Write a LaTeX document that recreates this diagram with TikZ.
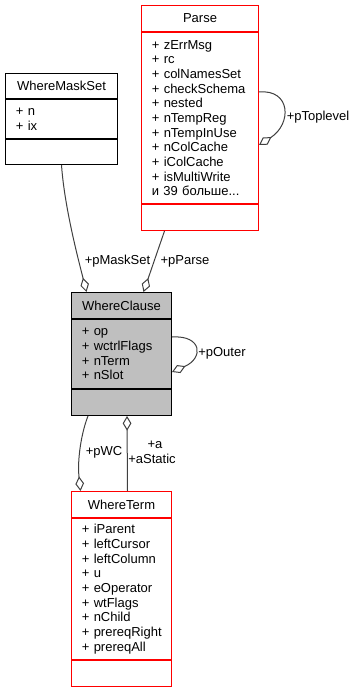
\documentclass[tikz,border=0pt]{standalone}
\usepackage{fontspec}
\setmainfont{Liberation Sans}
\usetikzlibrary{positioning,calc,arrows.meta}

\definecolor{edgegrey}{HTML}{404040}
\definecolor{boxred}{HTML}{FF0000}
\definecolor{boxgrey}{HTML}{BFBFBF}

\hyphenpenalty=10000

\tikzset{
  box/.style={draw, rectangle, inner sep=0pt, line width=0.75pt},
  classhead/.style={box, minimum width=#1, minimum height=19.5pt},
  classbody/.style={box, align=left, inner xsep=7.75pt, text width=#1},
  classfoot/.style={box, minimum width=#1, minimum height=19.5pt},
  assoc/.style={draw=edgegrey, line width=0.75pt,
    -{Diamond[open, length=11pt, width=6.5pt]}},
  lbl/.style={inner sep=0pt, anchor=base},
}

\begin{document}
\begin{tikzpicture}[x=0.75pt, y=-0.75pt, font=\fontsize{9.75}{11}\selectfont]
\useasboundingbox (0,0) rectangle (353,691);

% Parse
\node[classhead=87.75pt, draw=boxred, anchor=north west] (parseHead) at (141,5) {Parse};
\node[classbody=72.25pt, draw=boxred, minimum height=128.25pt, below=0pt of parseHead] (parseBody)
  {+ zErrMsg\\+ rc\\+ colNamesSet\\+ checkSchema\\+ nested\\+ nTempReg\\+ nTempInUse\\+ nColCache\\+ iColCache\\+ isMultiWrite\\и 39 больше...};
\node[classfoot=87.75pt, draw=boxred, below=0pt of parseBody] (parseFoot) {};

% WhereMaskSet
\node[classhead=84pt, minimum height=18.75pt, anchor=north west] (wmsHead) at (5,73) {WhereMaskSet};
\node[classbody=68.5pt, minimum height=29.25pt, below=0pt of wmsHead] (wmsBody) {+ n\\+ ix};
\node[classfoot=84pt, minimum height=18.75pt, below=0pt of wmsBody] (wmsFoot) {};

% WhereClause
\node[classhead=75pt, fill=boxgrey, anchor=north west] (wcHead) at (71,292) {WhereClause};
\node[classbody=59.5pt, fill=boxgrey, minimum height=51.75pt, below=0pt of wcHead] (wcBody)
  {+ op\\+ wctrlFlags\\+ nTerm\\+ nSlot};
\node[classfoot=75pt, fill=boxgrey, below=0pt of wcBody] (wcFoot) {};

% WhereTerm
\node[classhead=75pt, draw=boxred, anchor=north west] (wtHead) at (71,491) {WhereTerm};
\node[classbody=59.5pt, draw=boxred, minimum height=105.75pt, below=0pt of wtHead] (wtBody)
  {+ iParent\\+ leftCursor\\+ leftColumn\\+ u\\+ eOperator\\+ wtFlags\\+ nChild\\+~prereqRight\\+ prereqAll};
\node[classfoot=75pt, draw=boxred, below=0pt of wtBody] (wtFoot) {};

% associations
\draw[assoc] (wmsFoot.south) .. controls +(3,43) and +(-7.5,-30) .. ($(wcHead.north west)+(15.5,0)$);
\draw[assoc] ($(parseFoot.south west)+(23.5,0)$) -- ($(wcHead.north west)+(72.5,0)$);
\draw[assoc] ($(parseBody.north east)+(0,60)$) .. controls +(32,-3) and +(33,-21) .. ($(parseBody.north east)+(0,113)$);
\draw[assoc] ($(wcBody.north east)+(0,18)$) .. controls +(30,-2) and +(32,-14) .. ($(wcBody.north east)+(0,53)$);
\draw[assoc] ($(wcFoot.south west)+(17,0)$) .. controls +(-6,15) and +(-3.5,-33) .. ($(wtHead.north west)+(9.5,0)$);
\draw[assoc] ($(wtHead.north west)+(56.5,0)$) -- ($(wcFoot.south west)+(56,0)$);

\node[lbl] (lblMaskSet) at (117.5,264.5) {+pMaskSet};
\node[lbl] (lblParse) at (185,264.5) {+pParse};
\node[lbl, anchor=base west] (lblToplevel) at (286.5,121) {+pToplevel};
\node[lbl, anchor=base west] (lblOuter) at (198,356) {+pOuter};
\node[lbl] (lblWC) at (104,455) {+pWC};
\node[lbl] (lblA) at (155,448) {+a};
\node[lbl] (lblAStatic) at (152,463) {+aStatic};
\end{tikzpicture}
\end{document}
